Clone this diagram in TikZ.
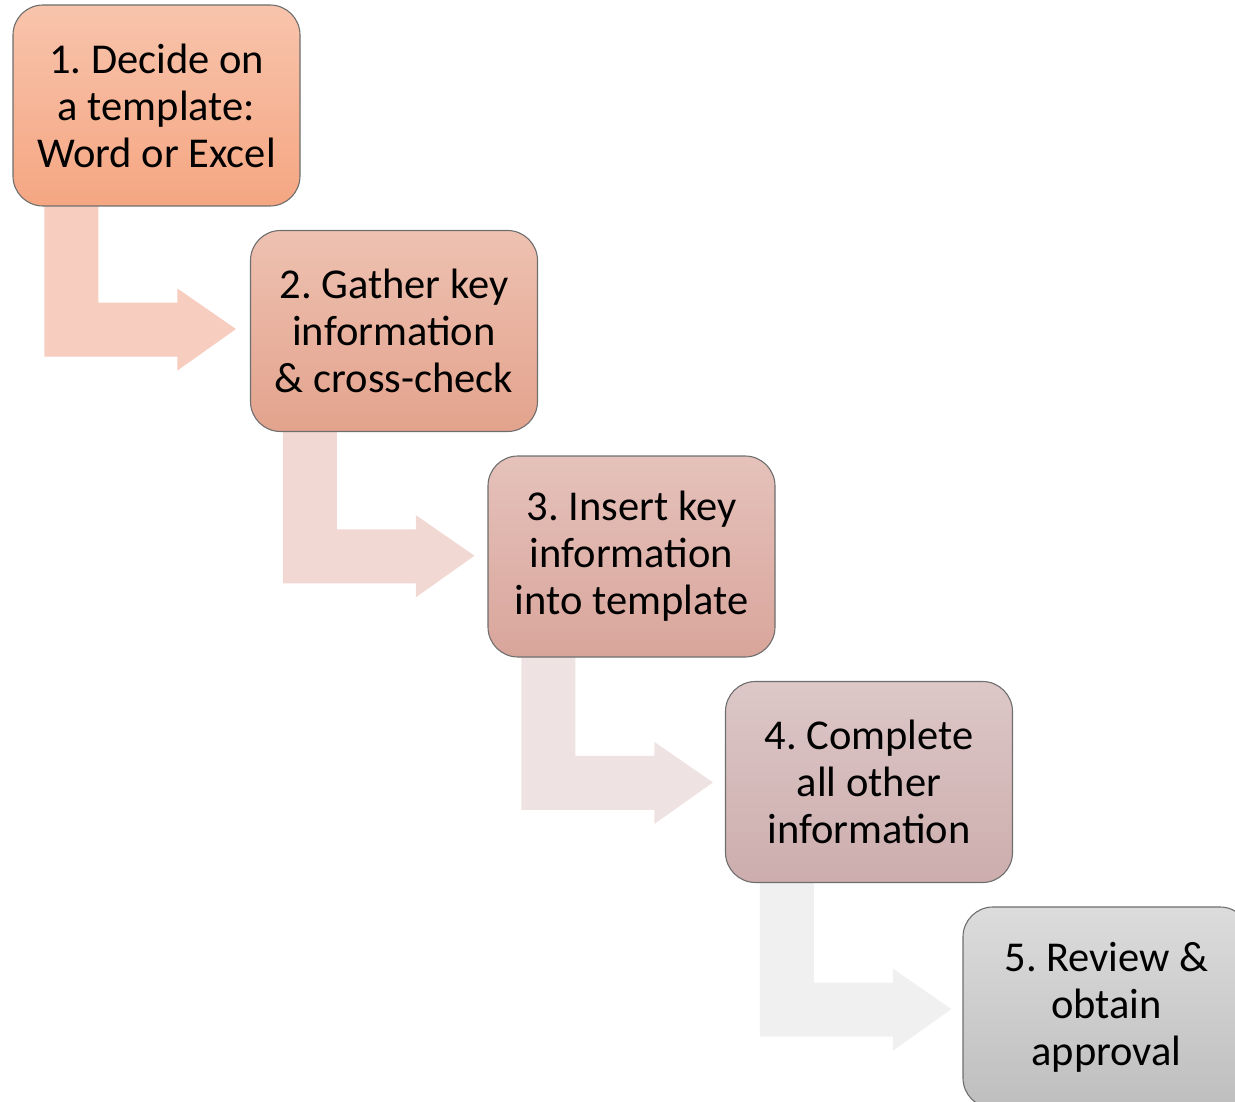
\documentclass[tikz,border=0pt]{standalone}
\usepackage{fontspec}
\setmainfont{Carlito}
\usetikzlibrary{calc}
\definecolor{bAt}{HTML}{F8C4AC}\definecolor{bAb}{HTML}{F5A682}
\definecolor{bBt}{HTML}{EEC1B1}\definecolor{bBb}{HTML}{E3A38D}
\definecolor{bCt}{HTML}{E5C2BB}\definecolor{bCb}{HTML}{D9A59B}
\definecolor{bDt}{HTML}{DDC7C7}\definecolor{bDb}{HTML}{CDADAD}
\definecolor{bEt}{HTML}{DCDCDC}\definecolor{bEb}{HTML}{BEBEBE}
\definecolor{aA}{HTML}{F6CDBF}\definecolor{aB}{HTML}{F2D8D2}
\definecolor{aC}{HTML}{EFE2E2}\definecolor{aD}{HTML}{F0F0F0}
\definecolor{edge}{HTML}{6E6E6E}
\frenchspacing
\begin{document}
\begin{tikzpicture}[x=1pt,y=-1pt,
  stepbox/.style={draw=edge, line width=1.1pt, rounded corners=30pt,
    minimum width=287pt, minimum height=201pt, inner sep=0pt, align=center,
    font=\fontsize{42.5}{47}\selectfont}]
\useasboundingbox (0,0) rectangle (1235,1102);
\clip (0,0) rectangle (1235,1102);
\pgfdeclarelayer{back}\pgfsetlayers{back,main}
\node[stepbox, top color=bAt, bottom color=bAb] (b1) at (156.5,105.5) {1. Decide on\\a template:\\Word or Excel};
\node[stepbox, top color=bBt, bottom color=bBb] (b2) at (394,331) {2. Gather key\\information\\\& cross-check};
\node[stepbox, top color=bCt, bottom color=bCb] (b3) at (631.5,556.5) {3. Insert key\\information\\into template};
\node[stepbox, top color=bDt, bottom color=bDb] (b4) at (869,782) {4. Complete\\all other\\information};
\node[stepbox, top color=bEt, bottom color=bEb] (b5) at (1106.5,1007.5) {5. Review \&\\obtain\\approval};
\begin{pgfonlayer}{back}
\foreach \s/\t/\c/\e in {b1/b2/aA/0, b2/b3/aB/1, b3/b4/aC/2, b4/b5/aD/3}{
  \coordinate (o) at ($(\s.south west)+(\e,1.2*\e)$);
  \coordinate (tip) at ($(\t.west)+(-14+\e,-2+1.2*\e)$);
  \fill[\c] ($(o)+(32,-8)$) -- ($(o)+(32,150)$) -- ($(o)+(165,150)$) -- ($(o)+(165,164)$)
    -- (tip) -- ($(o)+(165,82)$) -- ($(o)+(165,96)$) -- ($(o)+(86,96)$) -- ($(o)+(86,-8)$) -- cycle;
}
\end{pgfonlayer}
\end{tikzpicture}
\end{document}
